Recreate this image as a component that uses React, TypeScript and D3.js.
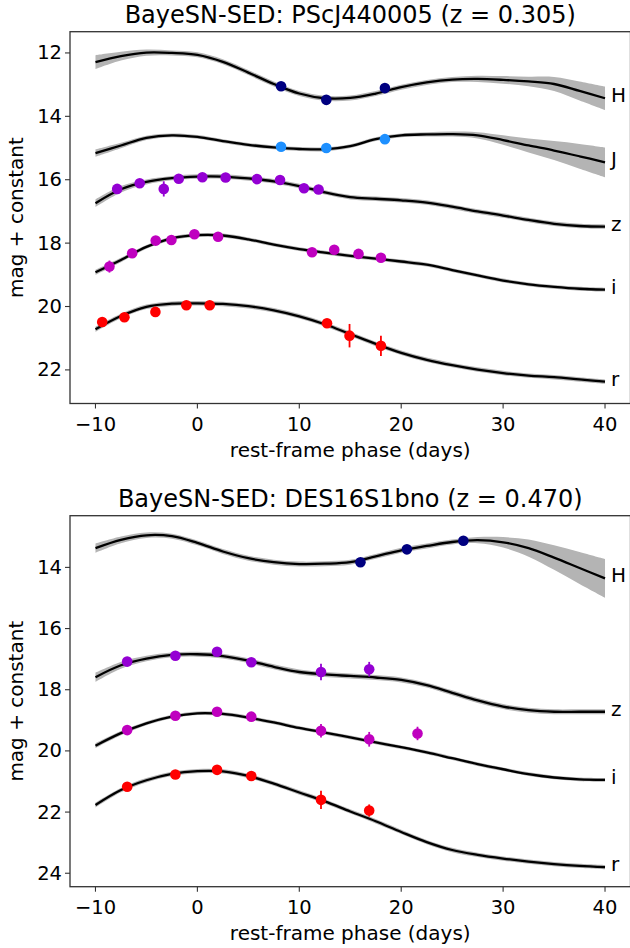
import React from 'react';
import * as d3 from 'd3';

// ---------- shared ----------
const PHASE_GRID = [-10, -7.5, -5, -2.5, 0, 2.5, 5, 7.5, 10, 12.5, 15, 17.5, 20, 22.5, 25, 27.5, 30, 32.5, 35, 37.5, 40];
const X_TICKS = [-10, 0, 10, 20, 30, 40];
const X_LABEL = 'rest-frame phase (days)';
const Y_LABEL = 'mag + constant';

const COLOR_H = '#000080';
const COLOR_J = '#1e90ff';
const COLOR_Z = '#9400d3';
const COLOR_I = '#bf00bf';
const COLOR_R = '#ff0000';

// ---------- top panel: PScJ440005 ----------
const TOP_TITLE = 'BayeSN-SED: PScJ440005 (z = 0.305)';
const TOP_Y_TICKS = [12, 14, 16, 18, 20, 22];

const TOP_H_MODEL = [12.29, 12.1, 11.99, 12.0, 12.06, 12.28, 12.62, 12.98, 13.28, 13.43, 13.42, 13.28, 13.08, 12.93, 12.84, 12.82, 12.85, 12.9, 12.98, 13.2, 13.43];
const TOP_H_SIG = [0.22, 0.14, 0.1, 0.08, 0.08, 0.08, 0.08, 0.08, 0.08, 0.08, 0.08, 0.08, 0.08, 0.08, 0.08, 0.1, 0.12, 0.15, 0.22, 0.3, 0.37];
const TOP_J_MODEL = [15.16, 14.92, 14.68, 14.6, 14.65, 14.78, 14.9, 14.98, 15.03, 15.04, 14.94, 14.72, 14.6, 14.57, 14.56, 14.6, 14.75, 14.92, 15.08, 15.26, 15.45];
const TOP_J_SIG = [0.12, 0.09, 0.07, 0.06, 0.06, 0.06, 0.06, 0.06, 0.06, 0.06, 0.06, 0.06, 0.06, 0.07, 0.08, 0.1, 0.15, 0.22, 0.3, 0.39, 0.47];
const TOP_Z_MODEL = [16.74, 16.3, 16.07, 15.95, 15.9, 15.9, 15.96, 16.05, 16.2, 16.4, 16.55, 16.6, 16.65, 16.72, 16.85, 17.0, 17.13, 17.27, 17.39, 17.46, 17.48];
const TOP_Z_SIG = [0.12, 0.1, 0.08, 0.07, 0.07, 0.07, 0.07, 0.07, 0.07, 0.07, 0.07, 0.07, 0.07, 0.07, 0.07, 0.07, 0.07, 0.07, 0.07, 0.07, 0.07];
const TOP_I_MODEL = [18.92, 18.53, 18.12, 17.85, 17.75, 17.76, 17.88, 18.05, 18.19, 18.3, 18.4, 18.49, 18.58, 18.68, 18.85, 19.02, 19.18, 19.3, 19.38, 19.44, 19.47];
const TOP_I_SIG = [0.08, 0.07, 0.06, 0.06, 0.06, 0.06, 0.06, 0.06, 0.06, 0.06, 0.06, 0.06, 0.06, 0.06, 0.06, 0.06, 0.06, 0.06, 0.06, 0.06, 0.06];
const TOP_R_MODEL = [20.72, 20.3, 20.01, 19.91, 19.9, 19.92, 19.99, 20.12, 20.31, 20.56, 20.87, 21.18, 21.46, 21.68, 21.85, 21.99, 22.1, 22.18, 22.23, 22.3, 22.37];
const TOP_R_SIG = [0.08, 0.07, 0.07, 0.07, 0.07, 0.07, 0.07, 0.07, 0.07, 0.07, 0.07, 0.07, 0.07, 0.07, 0.07, 0.07, 0.07, 0.07, 0.07, 0.07, 0.07];

const TOP_H_PHASE = [8.21, 12.65, 18.4];
const TOP_H_MAG = [13.05, 13.48, 13.11];
const TOP_H_ERR = [0.03, 0.03, 0.03];
const TOP_J_PHASE = [8.21, 12.65, 18.4];
const TOP_J_MAG = [14.96, 15.0, 14.72];
const TOP_J_ERR = [0.03, 0.03, 0.03];
const TOP_Z_PHASE = [-7.87, -5.66, -3.3, -1.83, 0.49, 2.77, 5.85, 8.11, 10.46, 11.89];
const TOP_Z_MAG = [16.29, 16.11, 16.29, 15.97, 15.92, 15.93, 15.98, 16.01, 16.27, 16.31];
const TOP_Z_ERR = [0.05, 0.05, 0.24, 0.05, 0.05, 0.05, 0.05, 0.05, 0.05, 0.05];
const TOP_I_PHASE = [-8.63, -6.4, -4.09, -2.55, -0.29, 2.03, 11.25, 13.43, 15.81, 18.01];
const TOP_I_MAG = [18.74, 18.32, 17.92, 17.9, 17.72, 17.8, 18.29, 18.21, 18.34, 18.46];
const TOP_I_ERR = [0.19, 0.05, 0.05, 0.05, 0.05, 0.05, 0.05, 0.05, 0.05, 0.05];
const TOP_R_PHASE = [-9.34, -7.16, -4.12, -1.08, 1.21, 12.72, 14.93, 18.01];
const TOP_R_MAG = [20.49, 20.34, 20.17, 19.96, 19.96, 20.53, 20.92, 21.24];
const TOP_R_ERR = [0.06, 0.05, 0.08, 0.05, 0.05, 0.06, 0.37, 0.32];

// ---------- bottom panel: DES16S1bno ----------
const BOT_TITLE = 'BayeSN-SED: DES16S1bno (z = 0.470)';
const BOT_Y_TICKS = [14, 16, 18, 20, 22, 24];

const BOT_H_MODEL = [13.37, 13.1, 12.95, 12.98, 13.2, 13.48, 13.7, 13.83, 13.89, 13.88, 13.83, 13.64, 13.44, 13.3, 13.17, 13.11, 13.18, 13.37, 13.68, 14.02, 14.36];
const BOT_H_SIG = [0.15, 0.11, 0.09, 0.08, 0.08, 0.08, 0.08, 0.08, 0.08, 0.08, 0.08, 0.08, 0.08, 0.08, 0.08, 0.1, 0.17, 0.28, 0.4, 0.52, 0.63];
const BOT_Z_MODEL = [17.59, 17.2, 16.98, 16.86, 16.84, 16.9, 17.05, 17.25, 17.42, 17.5, 17.55, 17.6, 17.68, 17.85, 18.1, 18.35, 18.55, 18.67, 18.72, 18.72, 18.72];
const BOT_Z_SIG = [0.15, 0.11, 0.09, 0.08, 0.08, 0.08, 0.08, 0.08, 0.08, 0.08, 0.08, 0.08, 0.08, 0.08, 0.08, 0.08, 0.08, 0.08, 0.08, 0.08, 0.08];
const BOT_I_MODEL = [19.83, 19.42, 19.1, 18.88, 18.77, 18.79, 18.91, 19.07, 19.25, 19.4, 19.56, 19.72, 19.88, 20.05, 20.24, 20.43, 20.6, 20.76, 20.87, 20.93, 20.95];
const BOT_I_SIG = [0.08, 0.07, 0.06, 0.06, 0.06, 0.06, 0.06, 0.06, 0.06, 0.06, 0.06, 0.06, 0.06, 0.06, 0.06, 0.06, 0.06, 0.06, 0.06, 0.06, 0.06];
const BOT_R_MODEL = [21.77, 21.28, 20.96, 20.75, 20.66, 20.67, 20.82, 21.07, 21.36, 21.65, 21.98, 22.3, 22.65, 22.98, 23.24, 23.4, 23.52, 23.62, 23.7, 23.76, 23.8];
const BOT_R_SIG = [0.08, 0.07, 0.07, 0.07, 0.07, 0.07, 0.07, 0.07, 0.07, 0.07, 0.07, 0.07, 0.07, 0.07, 0.07, 0.07, 0.07, 0.07, 0.07, 0.07, 0.07];

const BOT_H_PHASE = [16.0, 20.56, 26.1];
const BOT_H_MAG = [13.83, 13.41, 13.13];
const BOT_H_ERR = [0.03, 0.03, 0.03];
const BOT_Z_PHASE = [-6.89, -2.16, 1.93, 5.29, 12.13, 16.86];
const BOT_Z_MAG = [17.08, 16.89, 16.76, 17.1, 17.42, 17.33];
const BOT_Z_ERR = [0.06, 0.06, 0.06, 0.06, 0.27, 0.24];
const BOT_I_PHASE = [-6.89, -2.16, 1.93, 5.29, 12.13, 16.86, 21.6];
const BOT_I_MAG = [19.32, 18.85, 18.72, 18.88, 19.34, 19.62, 19.43];
const BOT_I_ERR = [0.06, 0.05, 0.05, 0.05, 0.22, 0.24, 0.22];
const BOT_R_PHASE = [-6.89, -2.16, 1.93, 5.29, 12.13, 16.86];
const BOT_R_MAG = [21.17, 20.77, 20.62, 20.82, 21.6, 21.95];
const BOT_R_ERR = [0.05, 0.05, 0.05, 0.05, 0.3, 0.2];

type Band = {
  name: string;
  color: string;
  model: number[];
  sig: number[];
  phase: number[];
  mag: number[];
  err: number[];
};

type PanelSpec = {
  title: string;
  yTicks: number[];
  yDomain: [number, number];
  yRange: [number, number];
  bands: Band[];
};

const PANELS: PanelSpec[] = [
  {
    title: TOP_TITLE,
    yTicks: TOP_Y_TICKS,
    yDomain: [11.33, 23.06],
    yRange: [31.7, 403.5],
    bands: [
      { name: 'H', color: COLOR_H, model: TOP_H_MODEL, sig: TOP_H_SIG, phase: TOP_H_PHASE, mag: TOP_H_MAG, err: TOP_H_ERR },
      { name: 'J', color: COLOR_J, model: TOP_J_MODEL, sig: TOP_J_SIG, phase: TOP_J_PHASE, mag: TOP_J_MAG, err: TOP_J_ERR },
      { name: 'z', color: COLOR_Z, model: TOP_Z_MODEL, sig: TOP_Z_SIG, phase: TOP_Z_PHASE, mag: TOP_Z_MAG, err: TOP_Z_ERR },
      { name: 'i', color: COLOR_I, model: TOP_I_MODEL, sig: TOP_I_SIG, phase: TOP_I_PHASE, mag: TOP_I_MAG, err: TOP_I_ERR },
      { name: 'r', color: COLOR_R, model: TOP_R_MODEL, sig: TOP_R_SIG, phase: TOP_R_PHASE, mag: TOP_R_MAG, err: TOP_R_ERR },
    ],
  },
  {
    title: BOT_TITLE,
    yTicks: BOT_Y_TICKS,
    yDomain: [12.31, 24.44],
    yRange: [515.7, 886.7],
    bands: [
      { name: 'H', color: COLOR_H, model: BOT_H_MODEL, sig: BOT_H_SIG, phase: BOT_H_PHASE, mag: BOT_H_MAG, err: BOT_H_ERR },
      { name: 'z', color: COLOR_Z, model: BOT_Z_MODEL, sig: BOT_Z_SIG, phase: BOT_Z_PHASE, mag: BOT_Z_MAG, err: BOT_Z_ERR },
      { name: 'i', color: COLOR_I, model: BOT_I_MODEL, sig: BOT_I_SIG, phase: BOT_I_PHASE, mag: BOT_I_MAG, err: BOT_I_ERR },
      { name: 'r', color: COLOR_R, model: BOT_R_MODEL, sig: BOT_R_SIG, phase: BOT_R_PHASE, mag: BOT_R_MAG, err: BOT_R_ERR },
    ],
  },
];

const FONT = '"DejaVu Sans", sans-serif';
const X_LEFT = 70;
const X_RIGHT = 630.5;

function fmt(v: number) {
  return v < 0 ? '\u2212' + Math.abs(v) : String(v);
}

function Panel({ spec }: { spec: PanelSpec }) {
  const x = d3.scaleLinear().domain([-12.5, 42.5]).range([X_LEFT, X_RIGHT]);
  const y = d3.scaleLinear().domain(spec.yDomain).range(spec.yRange);
  const [yTop, yBot] = spec.yRange;

  const line = d3
    .line<number>()
    .x((_, i) => x(PHASE_GRID[i]))
    .y((d) => y(d))
    .curve(d3.curveCatmullRom.alpha(0.5));

  return (
    <g>
      <text x={(X_LEFT + X_RIGHT) / 2} y={yTop - 9} textAnchor="middle" fontSize={24} fontFamily={FONT} fill="#000">
        {spec.title}
      </text>
      {spec.bands.map((b) => {
        const area = d3
          .area<number>()
          .x((_, i) => x(PHASE_GRID[i]))
          .y0((d, i) => y(d - b.sig[i]))
          .y1((d, i) => y(d + b.sig[i]))
          .curve(d3.curveCatmullRom.alpha(0.5));
        const last = b.model[b.model.length - 1];
        return (
          <g key={b.name}>
            <path d={area(b.model) || ''} fill="#b4b4b4" stroke="none" />
            <path d={line(b.model) || ''} fill="none" stroke="#000" strokeWidth={2.3} />
            {b.phase.map((p, i) => (
              <g key={i}>
                <line x1={x(p)} x2={x(p)} y1={y(b.mag[i] - b.err[i])} y2={y(b.mag[i] + b.err[i])} stroke={b.color} strokeWidth={1.8} />
                <circle cx={x(p)} cy={y(b.mag[i])} r={5.3} fill={b.color} />
              </g>
            ))}
            <text x={x(40) + 6} y={y(last) - 3} dominantBaseline="central" fontSize={20} fontFamily={FONT} fill="#000">
              {b.name}
            </text>
          </g>
        );
      })}
      {/* spines */}
      <rect x={X_LEFT} y={yTop} width={X_RIGHT - X_LEFT} height={yBot - yTop} fill="none" stroke="#333" strokeWidth={1.3} />
      {/* x ticks */}
      {X_TICKS.map((t) => (
        <g key={t}>
          <line x1={x(t)} x2={x(t)} y1={yBot} y2={yBot + 5} stroke="#333" strokeWidth={1.1} />
          <text x={x(t)} y={yBot + 27} textAnchor="middle" fontSize={19.5} fontFamily={FONT} fill="#000">
            {fmt(t)}
          </text>
        </g>
      ))}
      <text x={(X_LEFT + X_RIGHT) / 2} y={yBot + 53} textAnchor="middle" fontSize={20} fontFamily={FONT} fill="#000">
        {X_LABEL}
      </text>
      {/* y ticks */}
      {spec.yTicks.map((t) => (
        <g key={t}>
          <line x1={X_LEFT - 5} x2={X_LEFT} y1={y(t)} y2={y(t)} stroke="#333" strokeWidth={1.1} />
          <text x={X_LEFT - 8} y={y(t)} textAnchor="end" dominantBaseline="central" fontSize={19.5} fontFamily={FONT} fill="#000">
            {t}
          </text>
        </g>
      ))}
      <text
        transform={`translate(${16},${(yTop + yBot) / 2}) rotate(-90)`}
        textAnchor="middle"
        dominantBaseline="central"
        fontSize={20}
        fontFamily={FONT}
        fill="#000"
      >
        {Y_LABEL}
      </text>
    </g>
  );
}

export default function App() {
  return (
    <svg width={630} height={948} style={{ position: 'absolute', left: 0, top: 0, background: '#fff' }}>
      <rect x={0} y={0} width={630} height={948} fill="#fff" />
      {PANELS.map((p, i) => (
        <Panel key={i} spec={p} />
      ))}
    </svg>
  );
}
